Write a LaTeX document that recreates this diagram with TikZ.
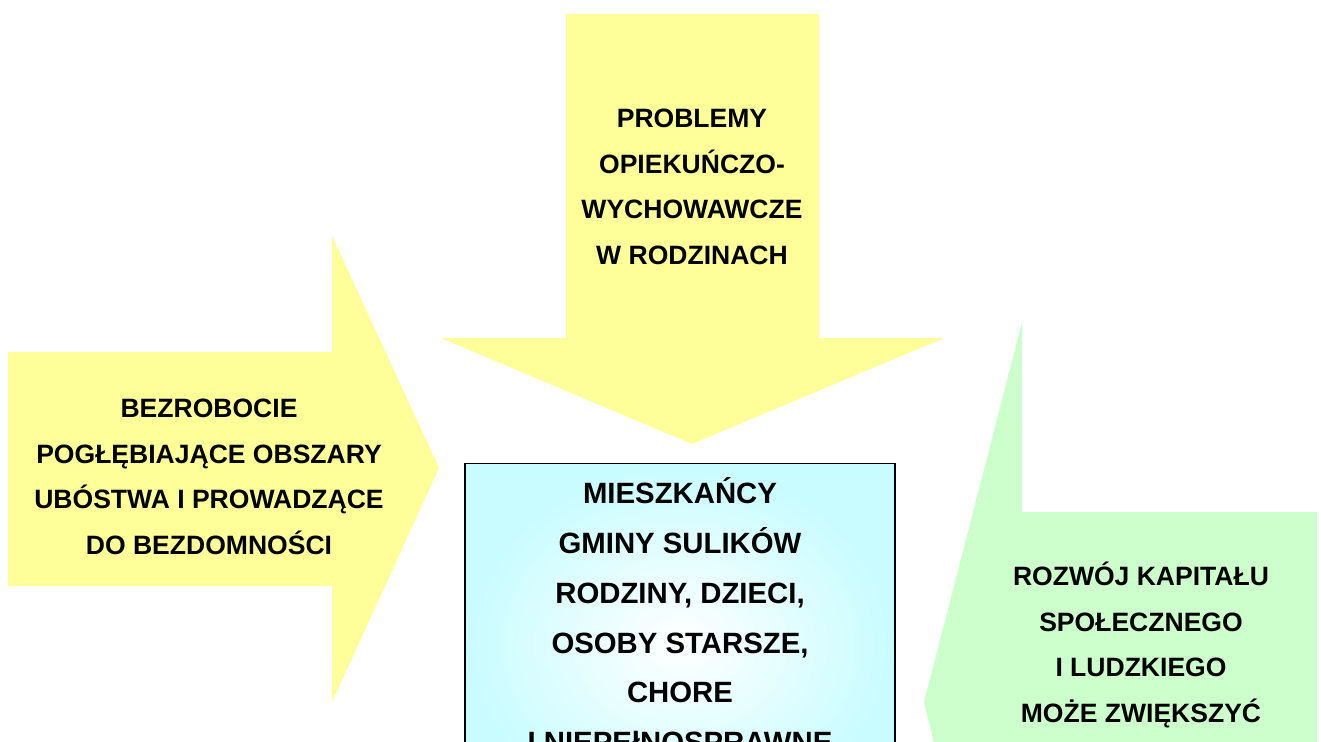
\documentclass[tikz,border=0pt]{standalone}
\usepackage{fontspec}
\setmainfont{Liberation Sans}
\usetikzlibrary{positioning}
\definecolor{cyellow}{HTML}{FFFF99}
\definecolor{cgreen}{HTML}{CCFFCC}
\definecolor{ccyan}{HTML}{C8FCFF}

\begin{document}
\begin{tikzpicture}[x=0.75pt, y=-0.75pt,
  yarrow/.style={fill=cyellow, draw=none},
  garrow/.style={fill=cgreen, draw=none},
  lbl/.style={align=center, inner sep=0pt, font=\fontsize{19.9}{34.2}\selectfont\bfseries},
  biglbl/.style={align=center, inner sep=0pt, font=\fontsize{22}{37.3}\selectfont\bfseries}
]

  \clip (0,0) rectangle (1321,742);

  % Top arrow
  \fill[yarrow] (566,14) -- (819,14) -- (819,338) -- (944,338) -- (692,444)
    -- (441,338) -- (566,338) -- cycle;
  \node[lbl] (problemy) at (692,187) {PROBLEMY\\OPIEKUŃCZO-\\WYCHOWAWCZE\\W RODZINACH};

  % Left arrow
  \fill[yarrow] (8,352) -- (332,352) -- (332,236) -- (439,468) -- (332,702)
    -- (332,586) -- (8,586) -- cycle;
  \node[lbl] (bezrobocie) at (209,477) {BEZROBOCIE\\POGŁĘBIAJĄCE OBSZARY\\UBÓSTWA I PROWADZĄCE\\DO BEZDOMNOŚCI};

  % Right arrow
  \fill[garrow] (924,702) -- (1022,322) -- (1022,512) -- (1317,512) -- (1317,760)
    -- (938,760) -- cycle;
  \node[lbl] (rozwoj) at (1141,645) {ROZWÓJ KAPITAŁU\\SPOŁECZNEGO\\I LUDZKIEGO\\MOŻE ZWIĘKSZYĆ};

  % Centre box
  \node[draw=black, line width=1.1pt, shade, inner color=white, outer color=ccyan,
    minimum width=322.5pt, minimum height=270pt, anchor=north] (box) at (680,463) {};
  \node[biglbl, below=11pt of box.north] (mieszkancy) {MIESZKAŃCY\\GMINY SULIKÓW\\RODZINY, DZIECI,\\OSOBY STARSZE,\\CHORE\\I NIEPEłNOSPRAWNE};

\end{tikzpicture}
\end{document}
